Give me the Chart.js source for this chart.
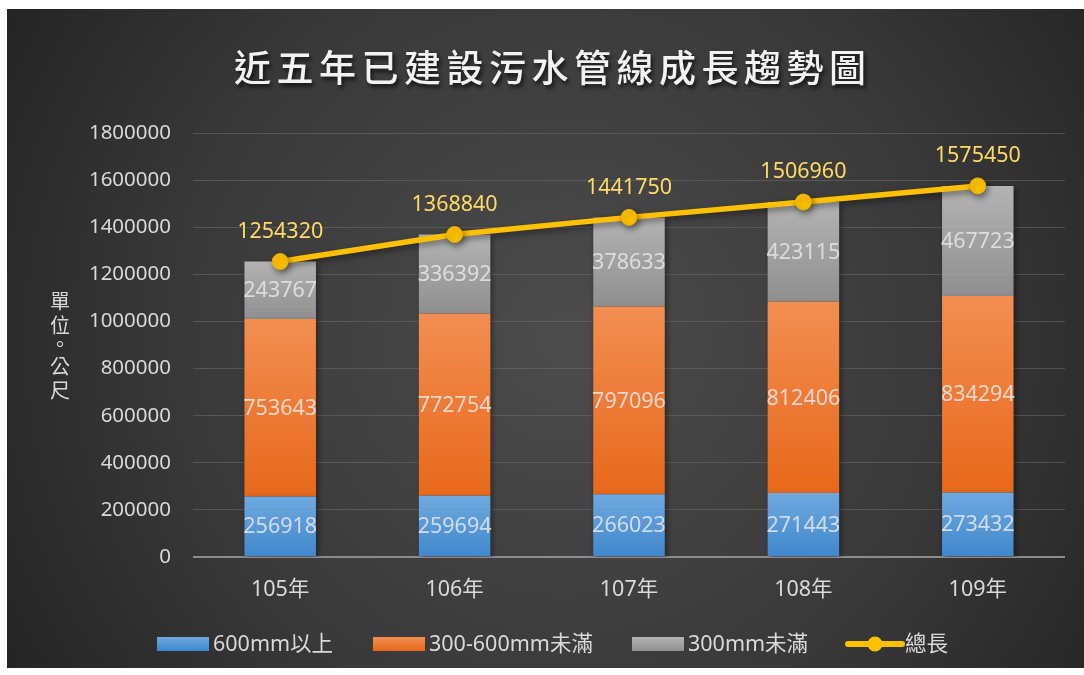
<!DOCTYPE html>
<html>
<head>
<meta charset="utf-8">
<script src="https://cdn.jsdelivr.net/npm/chart.js@4.4.1/dist/chart.umd.min.js"></script>
<style>
  html, body { margin: 0; padding: 0; background: #ffffff; }
  #wrap { position: absolute; left: 7px; top: 9px; width: 1077px; height: 659px; }
  canvas { display: block; }
</style>
</head>
<body>
<div id="wrap"><canvas id="c" width="1077" height="659"></canvas></div>
<script>
const categories = ['105年', '106年', '107年', '108年', '109年'];
const over600 = [256918, 259694, 266023, 271443, 273432];
const mid300to600 = [753643, 772754, 797096, 812406, 834294];
const under300 = [243767, 336392, 378633, 423115, 467723];
const totals = [1254320, 1368840, 1441750, 1506960, 1575450];
const seriesNames = ['600mm以上', '300-600mm未滿', '300mm未滿', '總長'];
const chartTitle = '近五年已建設污水管線成長趨勢圖';
const yAxisTitle = ['單', '位', '。', '公', '尺'];

const FONT = '"Noto Sans CJK TC", "Noto Sans", sans-serif';
const NFONT = '"Noto Sans", "Noto Sans CJK TC", sans-serif';
const TXT = '#d9d9d9';

function barGradient(top, bottom) {
  return function (ctx) {
    const chart = ctx.chart;
    if (!chart.chartArea || ctx.type !== 'data') return bottom;
    const y = chart.scales.y;
    const ds = chart.data.datasets;
    let base = 0;
    for (let i = 0; i < ctx.datasetIndex; i++) {
      if (ds[i].type === 'bar') base += ds[i].data[ctx.dataIndex];
    }
    const val = base + ds[ctx.datasetIndex].data[ctx.dataIndex];
    const y0 = y.getPixelForValue(val);
    const y1 = y.getPixelForValue(base);
    if (!isFinite(y0) || !isFinite(y1) || y0 === y1) return bottom;
    const g = chart.ctx.createLinearGradient(0, y0, 0, y1);
    g.addColorStop(0, top);
    g.addColorStop(1, bottom);
    return g;
  };
}

const legendColors = [
  ['#6fa9df', '#3f87cd'],
  ['#f28e52', '#e8681b'],
  ['#b3b3b3', '#8f8f8f']
];

const bgPlugin = {
  id: 'bg',
  beforeDraw(chart) {
    const c = chart.ctx;
    const w = chart.width, h = chart.height;
    c.save();
    const g = c.createRadialGradient(560, 330, 0, 560, 330, 700);
    g.addColorStop(0, '#4c4c4c');
    g.addColorStop(0.55, '#393939');
    g.addColorStop(1, '#202020');
    c.fillStyle = g;
    c.fillRect(0, 0, w, h);
    // title
    c.font = '500 37px ' + FONT;
    c.textAlign = 'left';
    c.textBaseline = 'middle';
    const spacing = 5.5;
    let total = 0;
    const widths = [];
    for (const ch of chartTitle) { const m = c.measureText(ch).width; widths.push(m); total += m + spacing; }
    total -= spacing;
    let x = 543 - total / 2;
    c.shadowColor = 'rgba(0,0,0,0.75)';
    c.shadowBlur = 4;
    c.shadowOffsetX = 2;
    c.shadowOffsetY = 3;
    c.fillStyle = '#f2f2f2';
    let k = 0;
    for (const ch of chartTitle) { c.fillText(ch, x, 59); x += widths[k++] + spacing; }
    c.restore();
    // y axis title, stacked vertically
    c.save();
    c.font = '20px ' + FONT;
    c.fillStyle = TXT;
    c.textAlign = 'center';
    c.textBaseline = 'middle';
    const ys = [292, 316, 335, 357, 381];
    yAxisTitle.forEach((ch, i) => c.fillText(ch, 53, ys[i]));
    c.restore();
  },
  beforeDatasetDraw(chart) {
    const c = chart.ctx;
    c.save();
    c.shadowColor = 'rgba(0,0,0,0.45)';
    c.shadowBlur = 6;
    c.shadowOffsetX = 2;
    c.shadowOffsetY = 3;
  },
  afterDatasetDraw(chart) {
    chart.ctx.restore();
  },
  afterDatasetsDraw(chart) {
    const c = chart.ctx;
    c.save();
    c.font = '21.5px ' + NFONT;
    c.textAlign = 'center';
    c.textBaseline = 'middle';
    chart.data.datasets.forEach((ds, di) => {
      const meta = chart.getDatasetMeta(di);
      meta.data.forEach((el, i) => {
        if (ds.type === 'bar') {
          c.fillStyle = 'rgba(230,230,230,0.85)';
          c.fillText(String(ds.data[i]), el.x, (el.y + el.base) / 2 + 1);
        } else {
          c.fillStyle = '#ffd966';
          c.fillText(String(ds.data[i]), el.x, el.y - 30);
        }
      });
    });
    c.restore();
    // legend
    c.save();
    c.font = '21.5px ' + NFONT;
    c.textAlign = 'left';
    c.textBaseline = 'middle';
    const ly = 635;
    const boxX = [150, 366, 625];
    for (let i = 0; i < 3; i++) {
      const g = c.createLinearGradient(0, ly - 7, 0, ly + 7);
      g.addColorStop(0, legendColors[i][0]);
      g.addColorStop(1, legendColors[i][1]);
      c.fillStyle = g;
      c.fillRect(boxX[i], ly - 7, 52, 14);
      c.fillStyle = TXT;
      c.fillText(chart.data.datasets[i].label, boxX[i] + 56, ly + 1);
    }
    c.strokeStyle = '#ffc000';
    c.lineWidth = 6;
    c.lineCap = 'round';
    c.beginPath();
    c.moveTo(841, ly);
    c.lineTo(895, ly);
    c.stroke();
    c.fillStyle = '#ffc000';
    c.beginPath();
    c.arc(868, ly, 7.5, 0, Math.PI * 2);
    c.fill();
    c.fillStyle = TXT;
    c.fillText(chart.data.datasets[3].label, 898, ly + 1);
    c.restore();
  }
};

new Chart(document.getElementById('c'), {
  data: {
    labels: categories,
    datasets: [
      { type: 'bar', label: seriesNames[0], data: over600, stack: 'bars', order: 1,
        backgroundColor: barGradient('#6fa9df', '#3f87cd'), barPercentage: 0.41, categoryPercentage: 1 },
      { type: 'bar', label: seriesNames[1], data: mid300to600, stack: 'bars', order: 1,
        backgroundColor: barGradient('#f28e52', '#e8681b'), barPercentage: 0.41, categoryPercentage: 1 },
      { type: 'bar', label: seriesNames[2], data: under300, stack: 'bars', order: 1,
        backgroundColor: barGradient('#b3b3b3', '#8f8f8f'), barPercentage: 0.41, categoryPercentage: 1 },
      { type: 'line', label: seriesNames[3], data: totals, stack: 'line', order: 0,
        borderColor: '#ffc000', borderWidth: 5.5, backgroundColor: '#ffc000',
        pointRadius: 8, pointBorderColor: '#e8b000', pointBorderWidth: 1,
        pointBackgroundColor: '#ffc000', tension: 0, fill: false }
    ]
  },
  options: {
    responsive: false,
    animation: false,
    devicePixelRatio: 1,
    layout: { padding: { top: 124, right: 19, bottom: 0, left: 0 } },
    plugins: {
      legend: { display: false },
      title: { display: false },
      tooltip: { enabled: false }
    },
    scales: {
      x: {
        stacked: true,
        grid: { display: false, drawTicks: false },
        border: { display: false },
        ticks: { color: TXT, font: { family: NFONT, size: 21.5 }, padding: 20 },
        afterFit(s) { s.height = 111; }
      },
      y: {
        stacked: true,
        min: 0, max: 1800000,
        grid: {
          drawTicks: false,
          color: (ctx) => ctx.tick && ctx.tick.value === 0 ? '#8c8c8c' : 'rgba(110,110,110,0.55)',
          lineWidth: (ctx) => ctx.tick && ctx.tick.value === 0 ? 2 : 1
        },
        border: { display: false },
        ticks: {
          stepSize: 200000,
          color: TXT,
          padding: 22,
          font: { family: NFONT, size: 20.5 },
          callback: (v) => String(v)
        },
        afterFit(s) { s.width = 186; }
      }
    }
  },
  plugins: [bgPlugin]
});
</script>
</body>
</html>
